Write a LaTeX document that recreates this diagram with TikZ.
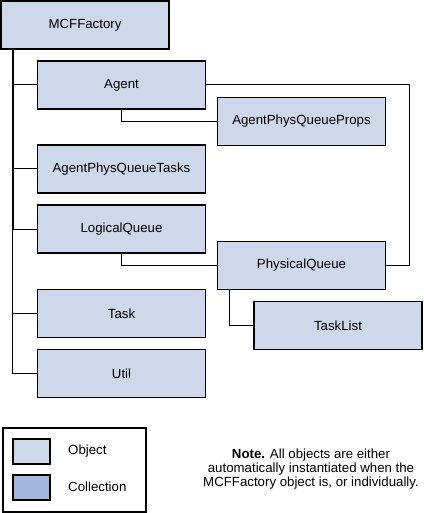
\documentclass[tikz,border=0pt]{standalone}
\usepackage{fontspec}
\setmainfont{Liberation Sans}
\definecolor{objfill}{RGB}{205,217,235}
\definecolor{colfill}{RGB}{163,182,220}
\tikzset{
  obj/.style={draw=black, fill=objfill, line width=1.5bp, minimum width=168bp, minimum height=48bp, inner sep=0pt, outer sep=0pt, font=\fontsize{13.3}{14.3}\selectfont},
  swatch/.style={draw=black, line width=1.5bp, minimum width=37bp, minimum height=25bp, inner sep=0pt, outer sep=0pt},
  conn/.style={draw=black, line width=1bp},
  trunk/.style={draw=black, line width=1.8bp},
  lbl/.style={font=\fontsize{13.3}{14.3}\selectfont, inner sep=0pt}
}
\begin{document}
\begin{tikzpicture}[x=1bp,y=-1bp]
\useasboundingbox (0,0) rectangle (423,513);
% nodes
\node[obj] (mcf) at (85,25) {MCFFactory};
\node[obj] (agent) at (121.5,85) {Agent};
\node[obj] (props) at (301.5,121.5) {AgentPhysQueueProps};
\node[obj] (tasks) at (121.5,169) {AgentPhysQueueTasks};
\node[obj] (logical) at (121.5,229) {LogicalQueue};
\node[obj] (physical) at (301.5,265.5) {PhysicalQueue};
\node[obj] (tasklist) at (338,325.5) {TaskList};
\node[obj] (task) at (121.5,313.5) {Task};
\node[obj] (util) at (121.5,373.5) {Util};
% trunk
\coordinate (ttop) at ([xshift=12bp]mcf.south west);
\coordinate (rside) at (409,85);
\begin{scope}[on background layer/.try]
\end{scope}
\draw[trunk] (ttop) -- (ttop |- logical.west);
\draw[conn] (ttop |- logical.west) |- (util.west);
\draw[conn] (ttop |- agent.west) -- (agent.west);
\draw[conn] (ttop |- tasks.west) -- (tasks.west);
\draw[conn] (ttop |- logical.west) -- (logical.west);
\draw[conn] (ttop |- task.west) -- (task.west);
% other connectors
\draw[conn] (agent.south) |- (props.west);
\draw[conn] (logical.south) |- (physical.west);
\draw[conn] ([xshift=12bp]physical.south west) |- (tasklist.west);
\draw[conn] (agent.east) -- (rside) |- (physical.east);
% legend
\node[draw=black, line width=1.5bp, minimum width=143bp, minimum height=84bp, inner sep=0pt, outer sep=0pt] (legend) at (74.5,470) {};
\node[swatch, fill=objfill] (objsw) at (31.5,451.5) {};
\node[swatch, fill=colfill] (colsw) at (31.5,487.5) {};
\node[lbl, anchor=west] (objlbl) at (68,451) {Object};
\node[lbl, anchor=west] (collbl) at (68,487) {Collection};
% note
\node[lbl, align=center] (note) at (311,469) {\textbf{Note.} All objects are either\\automatically instantiated when the\\MCFFactory object is, or individually.};
\end{tikzpicture}
\end{document}
